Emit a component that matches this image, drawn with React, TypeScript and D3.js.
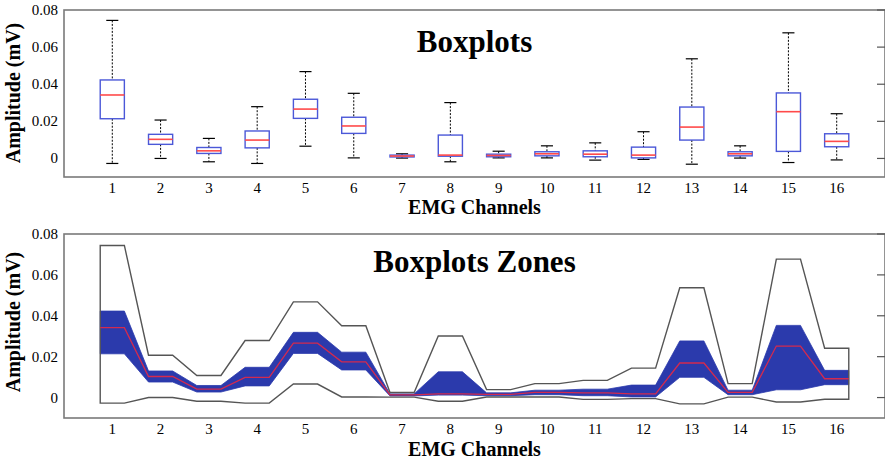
import React from 'react';
import * as d3 from 'd3';

// EMG channel boxplot statistics (mV)
const channels = [1, 2, 3, 4, 5, 6, 7, 8, 9, 10, 11, 12, 13, 14, 15, 16];
const whiskerHigh = [0.0744, 0.0207, 0.0108, 0.0279, 0.0468, 0.0351, 0.0025, 0.0301, 0.0039, 0.0068, 0.0084, 0.0144, 0.0537, 0.0068, 0.0677, 0.0241];
const q3 = [0.0423, 0.013, 0.0059, 0.0148, 0.0319, 0.0222, 0.0018, 0.0126, 0.0023, 0.0036, 0.0041, 0.0061, 0.0277, 0.0036, 0.0353, 0.0133];
const median = [0.0342, 0.0103, 0.0041, 0.0099, 0.0266, 0.0175, 0.0013, 0.0018, 0.0016, 0.0025, 0.0023, 0.0018, 0.0169, 0.0025, 0.0252, 0.0092];
const q1 = [0.0214, 0.0076, 0.0027, 0.0057, 0.0216, 0.0135, 0.0008, 0.0012, 0.0009, 0.0014, 0.0009, 0.0003, 0.0099, 0.0014, 0.0038, 0.0063];
const whiskerLow = [-0.0027, 0.0, -0.0018, -0.0027, 0.0066, 0.0003, 0.0002, -0.0018, 0.0003, 0.0003, -0.0009, -0.0005, -0.0031, 0.0002, -0.0022, -0.0008];
const yTicks = [0, 0.02, 0.04, 0.06, 0.08];
const yTickLabels = ['0', '0.02', '0.04', '0.06', '0.08'];

const FONT = '"Liberation Serif", "Times New Roman", serif';
const W = 885;
const H = 463;
const LEFT = 64;
const RIGHT = 885;
const HALF = 0.25;

const x = d3.scaleLinear().domain([0, 17]).range([LEFT, RIGHT]);

function Frame({ top, bottom, y, title, titleY, labelY, tickY, xlabY }) {
  return (
    <g>
      <rect x={LEFT} y={top} width={RIGHT - LEFT} height={bottom - top} fill="none" stroke="#7a7a7a" strokeWidth={1.6} />
      {yTicks.map((t, i) => (
        <g key={t}>
          <line x1={RIGHT - 8} x2={RIGHT} y1={y(t)} y2={y(t)} stroke="#555" strokeWidth={1.2} />
          <text x={58} y={y(t)} dy="0.33em" textAnchor="end" fontSize={15} fontFamily={FONT}>{yTickLabels[i]}</text>
        </g>
      ))}
      {channels.map(c => (
        <text key={c} x={x(c)} y={tickY} textAnchor="middle" fontSize={15} fontFamily={FONT}>{c}</text>
      ))}
      <text x={(LEFT + RIGHT) / 2} y={xlabY} textAnchor="middle" fontSize={20} fontWeight="bold" fontFamily={FONT}>EMG Channels</text>
      <text transform={`translate(20,${labelY}) rotate(-90)`} textAnchor="middle" fontSize={20} fontWeight="bold" fontFamily={FONT}>Amplitude (mV)</text>
      <text x={(LEFT + RIGHT) / 2} y={titleY} textAnchor="middle" fontSize={31} fontWeight="bold" fontFamily={FONT}>{title}</text>
    </g>
  );
}

function BoxPanel() {
  const y = d3.scaleLinear().domain([-0.01, 0.08]).range([177, 10]);
  return (
    <g>
      {channels.map((c, i) => {
        const cx = x(c);
        const bw = x(c + HALF) - cx;
        const cw = bw * 0.5;
        return (
          <g key={c}>
            <line x1={cx} x2={cx} y1={y(whiskerHigh[i])} y2={y(q3[i])} stroke="#000" strokeWidth={1} strokeDasharray="2,1.5" />
            <line x1={cx} x2={cx} y1={y(q1[i])} y2={y(whiskerLow[i])} stroke="#000" strokeWidth={1} strokeDasharray="2,1.5" />
            <line x1={cx - cw} x2={cx + cw} y1={y(whiskerHigh[i])} y2={y(whiskerHigh[i])} stroke="#000" strokeWidth={1.2} />
            <line x1={cx - cw} x2={cx + cw} y1={y(whiskerLow[i])} y2={y(whiskerLow[i])} stroke="#000" strokeWidth={1.2} />
            <rect x={cx - bw} y={y(q3[i])} width={bw * 2} height={Math.max(1, y(q1[i]) - y(q3[i]))} fill="#fff" stroke="#4b58d8" strokeWidth={1.4} />
            <line x1={cx - bw} x2={cx + bw} y1={y(median[i])} y2={y(median[i])} stroke="#ff4a4a" strokeWidth={1.6} />
          </g>
        );
      })}
      <Frame top={10} bottom={177} y={y} title="Boxplots" titleY={52} labelY={93} tickY={193} xlabY={214} />
    </g>
  );
}

function ZonePanel() {
  const y = d3.scaleLinear().domain([-0.01, 0.08]).range([418, 234]);
  const pts = channels.flatMap((c, i) => [{ x: c - HALF, i }, { x: c + HALF, i }]);
  const area = d3.area<{ x: number; i: number }>()
    .x(d => x(d.x))
    .y0(d => y(q1[d.i]))
    .y1(d => y(q3[d.i]));
  const line = (vals: number[]) => d3.line<{ x: number; i: number }>().x(d => x(d.x)).y(d => y(vals[d.i]))(pts);
  const outer = d3.line<[number, number]>()([
    ...pts.map(d => [x(d.x), y(whiskerHigh[d.i])] as [number, number]),
    ...pts.slice().reverse().map(d => [x(d.x), y(whiskerLow[d.i])] as [number, number]),
  ]) + 'Z';
  return (
    <g>
      <path d={area(pts) || ''} fill="#2b3aac" stroke="#2b3aac" strokeWidth={0.8} />
      <path d={outer} fill="none" stroke="#555" strokeWidth={1.4} />
      <path d={line(median) || ''} fill="none" stroke="#d42a4e" strokeWidth={1.3} />
      <Frame top={234} bottom={418} y={y} title="Boxplots Zones" titleY={272} labelY={322} tickY={434} xlabY={456} />
    </g>
  );
}

export default function App() {
  return (
    <svg width={W} height={H} style={{ position: 'absolute', left: 0, top: 0, background: '#fff' }}>
      <rect width={W} height={H} fill="#fff" />
      <BoxPanel />
      <ZonePanel />
    </svg>
  );
}
